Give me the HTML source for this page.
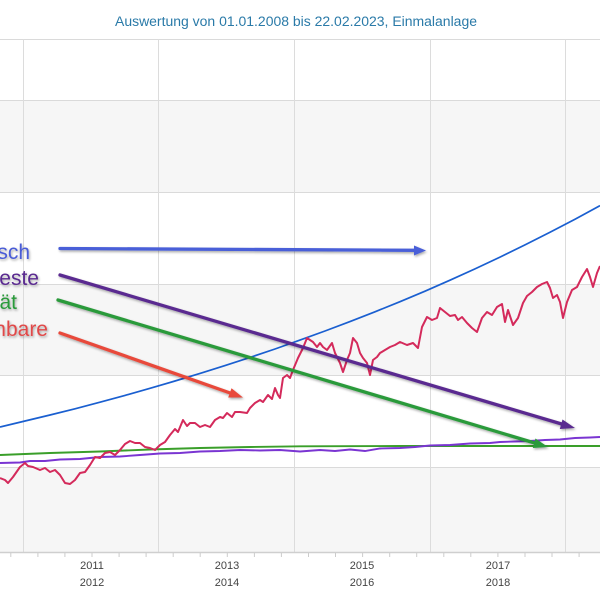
<!DOCTYPE html>
<html>
<head>
<meta charset="utf-8">
<style>
html,body{margin:0;padding:0;background:#fff;}
svg{display:block;}
</style>
</head>
<body>
<svg width="600" height="600" viewBox="0 0 600 600" xmlns="http://www.w3.org/2000/svg">
  <defs>
    <filter id="sh" x="-20%" y="-50%" width="140%" height="200%">
      <feGaussianBlur in="SourceAlpha" stdDeviation="1.2"/>
      <feOffset dx="1" dy="1.5" result="o"/>
      <feComponentTransfer><feFuncA type="linear" slope="0.35"/></feComponentTransfer>
      <feMerge><feMergeNode/><feMergeNode in="SourceGraphic"/></feMerge>
    </filter>
  </defs>
  <rect x="0" y="0" width="600" height="600" fill="#fff"/>
  <!-- title -->
  <text x="115" y="26" font-family="Liberation Sans, sans-serif" font-size="13.5" fill="#2a7aa8" textLength="362" lengthAdjust="spacingAndGlyphs">Auswertung von 01.01.2008 bis 22.02.2023, Einmalanlage</text>

  <!-- bands -->
  <rect x="0" y="100" width="600" height="92" fill="#f6f6f6"/>
  <rect x="0" y="284" width="600" height="91" fill="#f6f6f6"/>
  <rect x="0" y="467" width="600" height="85" fill="#f6f6f6"/>

  <!-- horizontal grid -->
  <g stroke="#dadada" stroke-width="1">
    <line x1="0" y1="39.5" x2="600" y2="39.5"/>
    <line x1="0" y1="100.5" x2="600" y2="100.5"/>
    <line x1="0" y1="192.5" x2="600" y2="192.5"/>
    <line x1="0" y1="284.5" x2="600" y2="284.5"/>
    <line x1="0" y1="375.5" x2="600" y2="375.5"/>
    <line x1="0" y1="467.5" x2="600" y2="467.5"/>
  </g>
  <!-- vertical grid -->
  <g stroke="#dcdcdc" stroke-width="1">
    <line x1="23.5" y1="39" x2="23.5" y2="552"/>
    <line x1="158.5" y1="39" x2="158.5" y2="552"/>
    <line x1="294.5" y1="39" x2="294.5" y2="552"/>
    <line x1="430.5" y1="39" x2="430.5" y2="552"/>
    <line x1="565.5" y1="39" x2="565.5" y2="552"/>
  </g>
  <!-- x axis -->
  <line x1="0" y1="552.5" x2="600" y2="552.5" stroke="#cfcfcf" stroke-width="1.5"/>
  <g stroke="#cccccc" stroke-width="1">
    <line x1="10.8" y1="553" x2="10.8" y2="557"/>
    <line x1="37.9" y1="553" x2="37.9" y2="557"/>
    <line x1="64.9" y1="553" x2="64.9" y2="557"/>
    <line x1="92" y1="553" x2="92" y2="557"/>
    <line x1="119.1" y1="553" x2="119.1" y2="557"/>
    <line x1="146.1" y1="553" x2="146.1" y2="557"/>
    <line x1="173.2" y1="553" x2="173.2" y2="557"/>
    <line x1="200.2" y1="553" x2="200.2" y2="557"/>
    <line x1="227.3" y1="553" x2="227.3" y2="557"/>
    <line x1="254.4" y1="553" x2="254.4" y2="557"/>
    <line x1="281.4" y1="553" x2="281.4" y2="557"/>
    <line x1="308.5" y1="553" x2="308.5" y2="557"/>
    <line x1="335.5" y1="553" x2="335.5" y2="557"/>
    <line x1="362.6" y1="553" x2="362.6" y2="557"/>
    <line x1="389.7" y1="553" x2="389.7" y2="557"/>
    <line x1="416.7" y1="553" x2="416.7" y2="557"/>
    <line x1="443.8" y1="553" x2="443.8" y2="557"/>
    <line x1="470.8" y1="553" x2="470.8" y2="557"/>
    <line x1="497.9" y1="553" x2="497.9" y2="557"/>
    <line x1="525" y1="553" x2="525" y2="557"/>
    <line x1="552" y1="553" x2="552" y2="557"/>
    <line x1="579.1" y1="553" x2="579.1" y2="557"/>
  </g>
  <g font-family="Liberation Sans, sans-serif" font-size="11" fill="#444" text-anchor="middle">
    <text x="92" y="569">2011</text><text x="92" y="586">2012</text>
    <text x="227" y="569">2013</text><text x="227" y="586">2014</text>
    <text x="362" y="569">2015</text><text x="362" y="586">2016</text>
    <text x="498" y="569">2017</text><text x="498" y="586">2018</text>
  </g>

  <!-- green series -->
  <polyline fill="none" stroke="#3a9f2a" stroke-width="1.9" points="0,455 50,453 100,451.5 150,449.5 200,448 250,447 300,446.3 400,446 600,446"/>
  <!-- purple series -->
  <polyline fill="none" stroke="#7a35d2" stroke-width="1.9" points="0,463 20,462.5 30,461 45,461 60,459.5 80,459 100,457 120,456.5 140,455 160,453.5 180,453 200,451.5 220,451 240,450 260,450.5 280,450 300,451.5 320,450 335,451 350,449.5 365,451 380,448.5 400,448 415,447 430,445.5 450,445 470,443.5 490,443 500,442 515,441.5 530,441 545,440 560,439.5 575,438 590,437.5 600,437"/>
  <!-- blue series -->
  <polyline fill="none" stroke="#1a5fd0" stroke-width="1.7" points="0,427 25,421 50,415 75,408.8 100,402.2 125,395.4 150,388.3 175,381 200,373.4 225,365.6 250,357.4 275,349 300,340.1 325,331 350,321.6 375,311.8 400,301.7 425,291.2 450,280.2 475,268.9 500,257.1 525,244.9 550,232.3 575,219.2 600,205.6"/>
  <!-- red series -->
  <polyline fill="none" stroke="#d42a5b" stroke-width="2" stroke-linejoin="round" points="0,478 5,480 8,483 13,477 20,467 25,463 28,466 33,467 40,470 45,468 50,472 55,470 60,475 65,483 70,484 75,480 80,473 85,472 90,465 95,457 100,458 105,453 110,452 115,455 120,450 125,444 130,441 135,443 140,443 145,447 150,448 155,450 160,445 165,442 170,435 175,429 178,432 183,420 187,426 190,423 195,423 200,427 205,425 210,427 215,420 220,417 223,418 227,413 232,417 235,412 240,412 247,413 250,408 255,403 260,400 263,402 268,395 272,399 275,388 278,395 280,398 283,378 287,375 290,378 293,370 298,358 303,348 307,338 310,340 313,342 317,347 320,343 323,347 327,350 332,343 335,353 340,363 343,372 347,360 350,353 353,338 357,343 360,353 363,358 367,363 370,375 373,360 377,357 380,353 385,350 390,347 395,345 400,342 407,345 413,343 418,348 422,327 427,317 432,320 437,318 440,308 445,312 450,316 455,315 458,320 462,317 467,323 472,328 477,332 482,318 487,312 492,315 497,307 502,304 505,322 508,310 513,325 518,318 523,303 527,296 532,292 537,287 542,284 547,282 550,288 553,298 557,295 560,302 563,318 567,302 572,290 577,287 582,277 587,269 590,277 593,287 597,273 600,266"/>

  <!-- annotation arrows -->
  <g filter="url(#sh)" stroke-linecap="round">
    <line x1="60" y1="248.5" x2="416" y2="250.3" stroke="#4a5fd8" stroke-width="3.3"/>
    <polygon points="426,250.5 414,245.5 414,255.5" fill="#4a5fd8"/>

    <line x1="60" y1="275" x2="565" y2="425" stroke="#5a2a90" stroke-width="3.3"/>
    <polygon points="575,428 562.5,419.5 559.8,429" fill="#5a2a90"/>

    <line x1="58" y1="300" x2="538" y2="444" stroke="#2a9a3a" stroke-width="3.3"/>
    <polygon points="548,447 535.5,438.5 532.8,448" fill="#2a9a3a"/>

    <line x1="60" y1="333" x2="233" y2="394" stroke="#e8483a" stroke-width="3.3"/>
    <polygon points="243,397.5 231.5,388.2 228.2,397.5" fill="#e8483a"/>
  </g>

  <!-- left labels -->
  <g font-family="Liberation Sans, sans-serif" font-size="21" text-anchor="end" filter="url(#sh)">
    <text x="30" y="259" fill="#4a5bd6">sch</text>
    <text x="39" y="285" fill="#5a2a90">este</text>
    <text x="17" y="309" fill="#2a9a3a">ät</text>
    <text x="48" y="336" fill="#e04848">nbare</text>
  </g>
</svg>
</body>
</html>
